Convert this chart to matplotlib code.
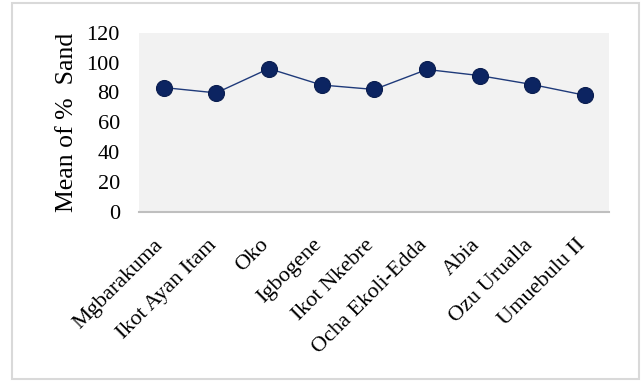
import matplotlib.pyplot as plt
from matplotlib.patches import Rectangle
from matplotlib.transforms import ScaledTranslation

sites = ["Mgbarakuma", "Ikot Ayan Itam", "Oko", "Igbogene", "Ikot Nkebre",
         "Ocha Ekoli-Edda", "Abia", "Ozu Urualla", "Umuebulu II"]
sand_mean = [83.3, 79.7, 96.0, 85.0, 82.0, 95.4, 91.3, 85.3, 78.1]
y_ticks = [0, 20, 40, 60, 80, 100, 120]

plt.rcParams['font.family'] = ['Liberation Serif', 'DejaVu Serif']

fig = plt.figure(figsize=(6.42, 3.81), dpi=100)
ax = fig.add_axes([0.217, 0.444, 0.732, 0.470])

# light grey frame around the whole chart
fig.patches.append(Rectangle((0.019, 0.005), 0.977, 0.987, transform=fig.transFigure,
                             fill=False, edgecolor='#d9d9d9', linewidth=1.5))

x = range(len(sites))
ax.plot(x, sand_mean, color='#1f3a7a', linewidth=1.0, marker='o',
        markersize=11.5, markerfacecolor='#0c2461', markeredgecolor='#0a1d4f',
        markeredgewidth=0.8)

ax.set_facecolor('#f2f2f2')
ax.set_xlim(-0.46, len(sites) - 0.54)
ax.set_ylim(0, 120)
ax.set_yticks(y_ticks)
ax.set_xticks(list(x))
ax.set_xticklabels(sites, rotation=45, ha='right', rotation_mode='default')
ax.tick_params(axis='both', length=0, labelsize=16, colors='black')
ax.tick_params(axis='x', pad=17)
ax.tick_params(axis='y', pad=14)

# nudge the slanted names a little to the right of their ticks
shift = ScaledTranslation(4 / 100, 0, fig.dpi_scale_trans)
for lbl in ax.get_xticklabels():
    lbl.set_transform(lbl.get_transform() + shift)

for side in ['top', 'right', 'left']:
    ax.spines[side].set_visible(False)
ax.spines['bottom'].set_color('#bfbfbf')
ax.spines['bottom'].set_linewidth(1.5)

ax.set_ylabel("Mean of %  Sand", fontsize=18.5, labelpad=6)

fig.savefig("out.png", dpi=100)
